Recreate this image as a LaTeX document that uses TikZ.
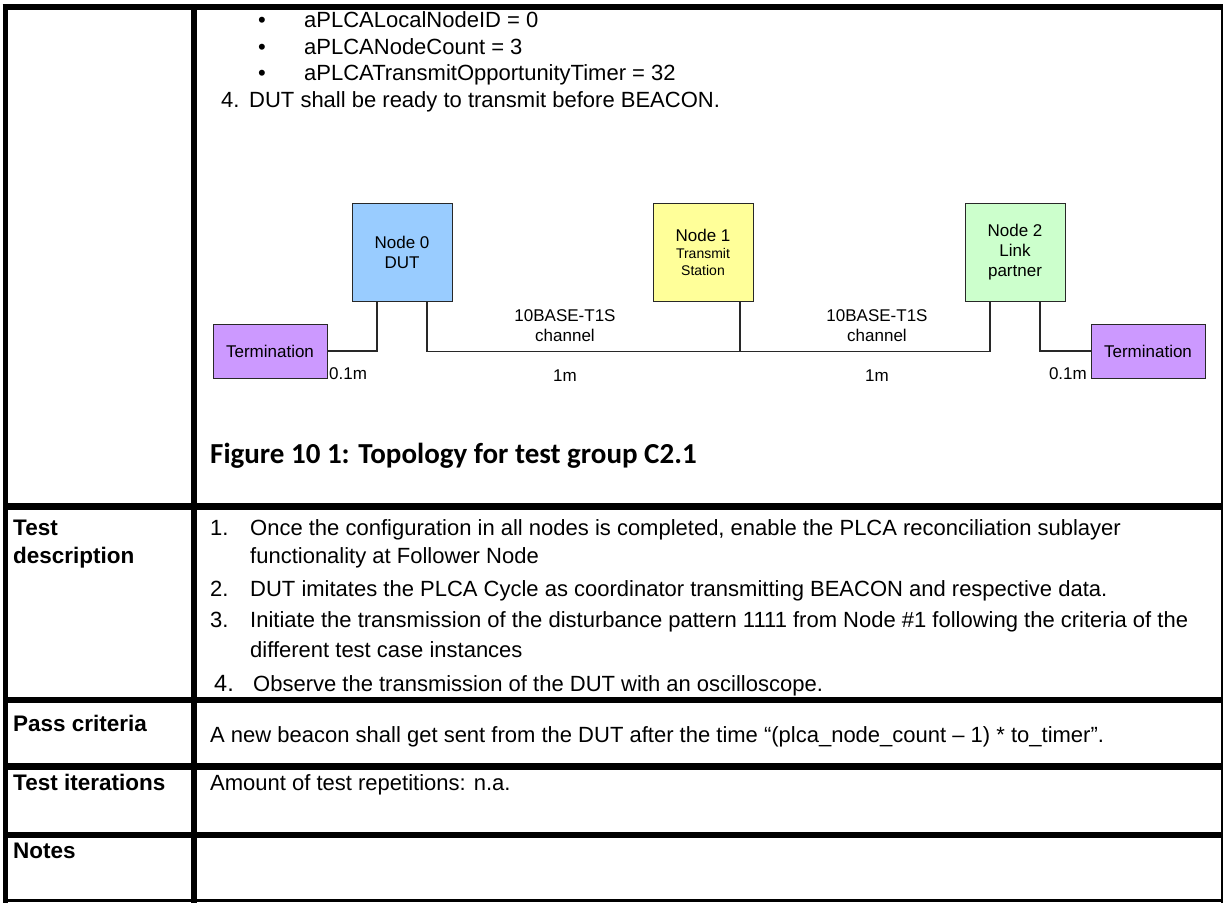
\documentclass[tikz,border=0pt]{standalone}
\usepackage{fontspec}
\setmainfont{Liberation Sans}
\newfontfamily\capfont{Carlito}
\definecolor{dutc}{RGB}{153,204,255}
\definecolor{txc}{RGB}{255,255,153}
\definecolor{lpc}{RGB}{204,255,204}
\definecolor{termc}{RGB}{204,153,255}
\definecolor{wirec}{RGB}{40,40,40}
\begin{document}
\begin{tikzpicture}[x=1pt,y=-1pt,
  rule/.style={line width=6pt},
  body/.style={inner sep=0pt, anchor=base west, font=\fontsize{22}{26}\selectfont},
  head/.style={inner sep=0pt, anchor=base west, font=\bfseries\fontsize{22.5}{26}\selectfont},
  dev/.style={draw=wirec, line width=0.9pt, minimum width=100pt, minimum height=98pt,
              inner sep=0pt, align=center, font=\fontsize{17}{20}\selectfont},
  term/.style={draw=wirec, line width=0.9pt, fill=termc, minimum width=114pt,
               minimum height=54pt, inner sep=0pt, font=\fontsize{17}{20}\selectfont},
  wire/.style={draw=wirec, line width=1.3pt},
  dim/.style={inner sep=0pt, align=center, font=\fontsize{17}{20}\selectfont}
]
% page
\fill[white] (0,0) rectangle (1223,903);
\useasboundingbox (0,0) rectangle (1223,903);

% table frame
\draw[rule] (2.5,7) -- (1223,7);
\draw[line width=5pt] (5.5,4) -- (5.5,903);
\draw[rule] (194,4) -- (194,903);
\draw[line width=2.6pt] (1222,4) -- (1222,903);
\draw[line width=7pt] (3,506.5) -- (1223,506.5);
\draw[rule] (3,700) -- (1223,700);
\draw[line width=7pt] (3,766.5) -- (1223,766.5);
\draw[rule] (3,834.5) -- (1223,834.5);
\draw[line width=3pt] (3,900.5) -- (1223,900.5);

% configuration list
\node[body] (b1) at (258,27) {•};
\node[body] (c1) at (304,27) {aPLCALocalNodeID = 0};
\node[body] (b2) at (258,54) {•};
\node[body] (c2) at (304,54) {aPLCANodeCount = 3};
\node[body] (b3) at (258,80) {•};
\node[body] (c3) at (304,80) {aPLCATransmitOpportunityTimer = 32};
\node[body] (n4) at (221,107) {4.};
\node[body] (c4) at (249,107) {DUT shall be ready to transmit before BEACON.};

% topology
\node[dev, fill=dutc] (n0) at (402,252) {Node 0\\DUT};
\node[dev, fill=txc] (n1) at (703,252)
  {Node 1\\[-3pt]{\fontsize{14}{16}\selectfont Transmit}\\[-3pt]{\fontsize{14}{16}\selectfont Station}};
\node[dev, fill=lpc] (n2) at (1015,252) {Node 2\\Link\\partner};
\node[term] (t1) at (270,351) {Termination};
\node[term] (t2) at (1148,351) {Termination};

\draw[wire] (t1.east) -| ([xshift=-25pt]n0.south);
\draw[wire] ([xshift=25pt]n0.south) -- ++(0,50) -| ([xshift=37pt]n1.south);
\draw[wire] ([xshift=37pt]n1.south) ++(0,50) -| ([xshift=-25pt]n2.south);
\draw[wire] ([xshift=25pt]n2.south) |- (t2.west);

\node[dim] (ch1) at (565,326) {10BASE-T1S\\channel};
\node[dim] (ch2) at (877,326) {10BASE-T1S\\channel};
\node[dim] (l1) at (565,376) {1m};
\node[dim] (l2) at (877,376) {1m};
\node[dim, anchor=west] (s1) at (329,374) {0.1m};
\node[dim, anchor=east] (s2) at (1087,374) {0.1m};

\node[inner sep=0pt, anchor=base west, font=\capfont\bfseries\fontsize{29}{34}\selectfont]
  (cap) at (210,463) {Figure 10 1: Topology for test group C2.1};

% test description
\node[head] (h1) at (13,535) {Test};
\node[head] (h1b) at (13,563) {description};
\node[body] (d1n) at (210,535) {1.};
\node[body] (d1) at (250,535) {Once the configuration in all nodes is completed, enable the PLCA reconciliation sublayer};
\node[body] (d1c) at (250,563) {functionality at Follower Node};
\node[body] (d2n) at (210,596) {2.};
\node[body] (d2) at (250,596) {DUT imitates the PLCA Cycle as coordinator transmitting BEACON and respective data.};
\node[body] (d3n) at (210,627) {3.};
\node[body] (d3) at (250,627) {Initiate the transmission of the disturbance pattern 1111 from Node \#1 following the criteria of the};
\node[body] (d3c) at (250,657) {different test case instances};
\node[body, font=\fontsize{23.5}{26}\selectfont] (d4n) at (214,691) {4.};
\node[body] (d4) at (253,691) {Observe the transmission of the DUT with an oscilloscope.};

% pass criteria
\node[head] (h2) at (13,731) {Pass criteria};
\node[body] (p1) at (210,742) {A new beacon shall get sent from the DUT after the time “(plca\_node\_count – 1) * to\_timer”.};

% iterations
\node[head] (h3) at (13,790) {Test iterations};
\node[body] (i1) at (210,790) {Amount of test repetitions: n.a.};

% notes
\node[head] (h4) at (13,858) {Notes};
\end{tikzpicture}
\end{document}
